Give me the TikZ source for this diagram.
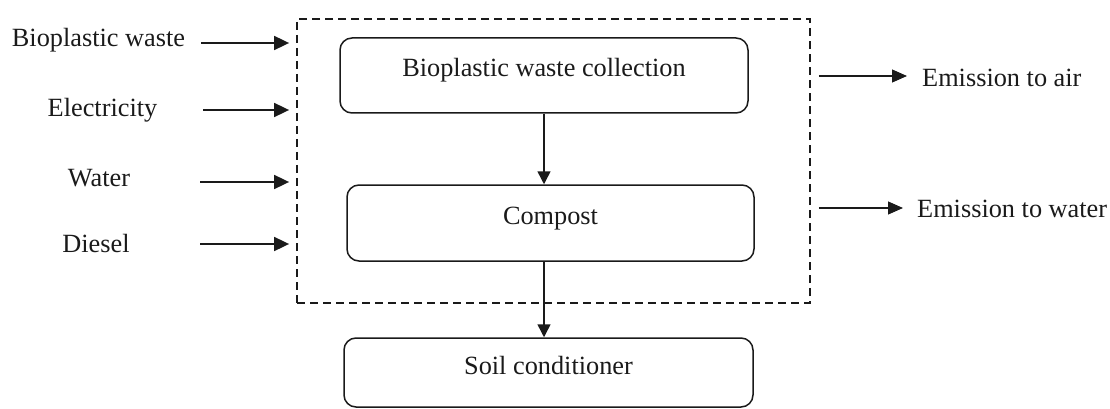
\documentclass[tikz,border=0pt]{standalone}
\usepackage{fontspec}
\setmainfont{Liberation Serif}
\usetikzlibrary{arrows.meta}
\definecolor{ink}{HTML}{1A1A1A}
\tikzset{
  txt/.style={font=\fontsize{26.3}{30}\selectfont, text=ink, inner sep=0pt},
  stage/.style={draw=ink, line width=1.5pt, rounded corners=12pt, txt,
    text height=18pt, text depth=15pt},
  sysbound/.style={draw=ink, line width=1.8pt, dash pattern=on 8pt off 5pt},
  inflow/.style={draw=ink, line width=1.8pt, -{Triangle[length=15pt,width=14pt]}},
  outflow/.style={draw=ink, line width=1.1pt, -{Triangle[length=15pt,width=13pt]}},
  flow/.style={draw=ink, line width=1.5pt, -{Triangle[length=13pt,width=13pt]}}
}
\begin{document}
\begin{tikzpicture}[x=1pt,y=-1pt]
\useasboundingbox (0,0) rectangle (1110,409);

% system boundary
\node[sysbound, minimum width=513pt, minimum height=284pt, inner sep=0pt] (sys) at (553.5,161) {};

% process stages
\node[stage, minimum width=408pt, minimum height=75pt] (b1) at (544,75.5) {Bioplastic waste collection};
\node[stage, minimum width=407pt, minimum height=76pt] (b2) at (550.5,223) {Compost};
\node[stage, minimum width=409pt, minimum height=69pt] (b3) at (548.5,372.5) {Soil conditioner};

\draw[flow] (b1.south) -- (b1.south |- b2.north);
\draw[flow] (b1.south |- b2.south) -- (b1.south |- b3.north);

% inputs
\node[txt, anchor=base] (i1) at (98.5,47) {Bioplastic waste};
\node[txt, anchor=base] (i2) at (102.5,117) {Electricity};
\node[txt, anchor=base] (i3) at (99,186) {Water};
\node[txt, anchor=base] (i4) at (96,252) {Diesel};
\coordinate (s1) at (201,43);
\coordinate (s2) at (203,110);
\coordinate (s3) at (200,182);
\coordinate (s4) at (200,244);
\foreach \s in {s1,s2,s3,s4}
  \draw[inflow, shorten >=7pt] (\s) -- (\s -| sys.west);

% outputs
\node[txt, anchor=base west] (o1) at (922,87) {Emission to air};
\node[txt, anchor=base west] (o2) at (917,217) {Emission to water};
\coordinate (e1) at (907,76);
\coordinate (e2) at (903,208);
\draw[outflow, shorten <=8pt] (sys.east |- e1) -- (e1);
\draw[outflow, shorten <=8pt] (sys.east |- e2) -- (e2);
\end{tikzpicture}
\end{document}
